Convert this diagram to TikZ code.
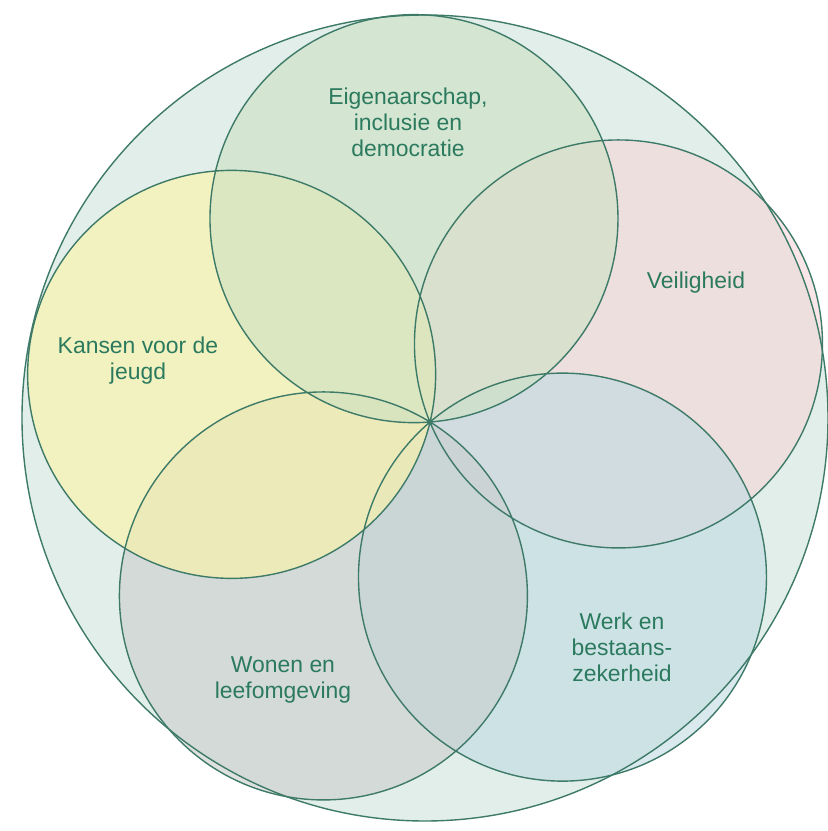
\documentclass[tikz,border=0pt]{standalone}
\usepackage{fontspec}
\setmainfont{Liberation Sans}
\usepackage{xcolor}
\definecolor{lr-line}{RGB}{61,122,104}
\definecolor{lr-text}{RGB}{43,122,94}
\definecolor{lr-back}{RGB}{226,238,234}
\definecolor{lr-eigen}{RGB}{204,225,194}
\definecolor{lr-veilig}{RGB}{246,213,217}
\definecolor{lr-werk}{RGB}{191,218,227}
\definecolor{lr-wonen}{RGB}{201,205,204}
\definecolor{lr-kansen}{RGB}{254,245,164}
\usepackage{tikz}

\begin{document}
\begin{tikzpicture}[x=0.5bp,y=0.5bp,
    blob/.style={fill opacity=0.6},
    rim/.style={draw=lr-line,line width=0.7pt},
    theme/.style={align=center,text=lr-text,font=\fontsize{11.5}{13}\selectfont}]
    \useasboundingbox (-430,-409) rectangle (398,422);
    % outer circle
    \fill[lr-back] (-5,4) circle (403);
    % five themes, all through the middle
    \fill[lr-veilig,blob] (22.5:204) circle (204);
    \fill[lr-werk,blob] (-49.5:204) circle (204);
    \fill[lr-wonen,blob] (-121.5:204) circle (204);
    \fill[lr-kansen,blob] (166.5:204) circle (204);
    \fill[lr-eigen,blob] (94.5:204) circle (204);
    \draw[rim] (-5,4) circle (403);
    \draw[rim] (94.5:204) circle (204) (22.5:204) circle (204) (-49.5:204) circle (204)
        (-121.5:204) circle (204) (166.5:204) circle (204);
    \node[theme] (eigen) at (-22,300) {Eigenaarschap,\\inclusie en\\democratie};
    \node[theme] (veilig) at (266,139) {Veiligheid};
    \node[theme] (kansen) at (-292,61) {Kansen voor de\\jeugd};
    \node[theme] (wonen) at (-147,-258) {Wonen en\\leefomgeving};
    \node[theme] (werk) at (192,-225) {Werk en\\bestaans-\\zekerheid};
\end{tikzpicture}
\end{document}
